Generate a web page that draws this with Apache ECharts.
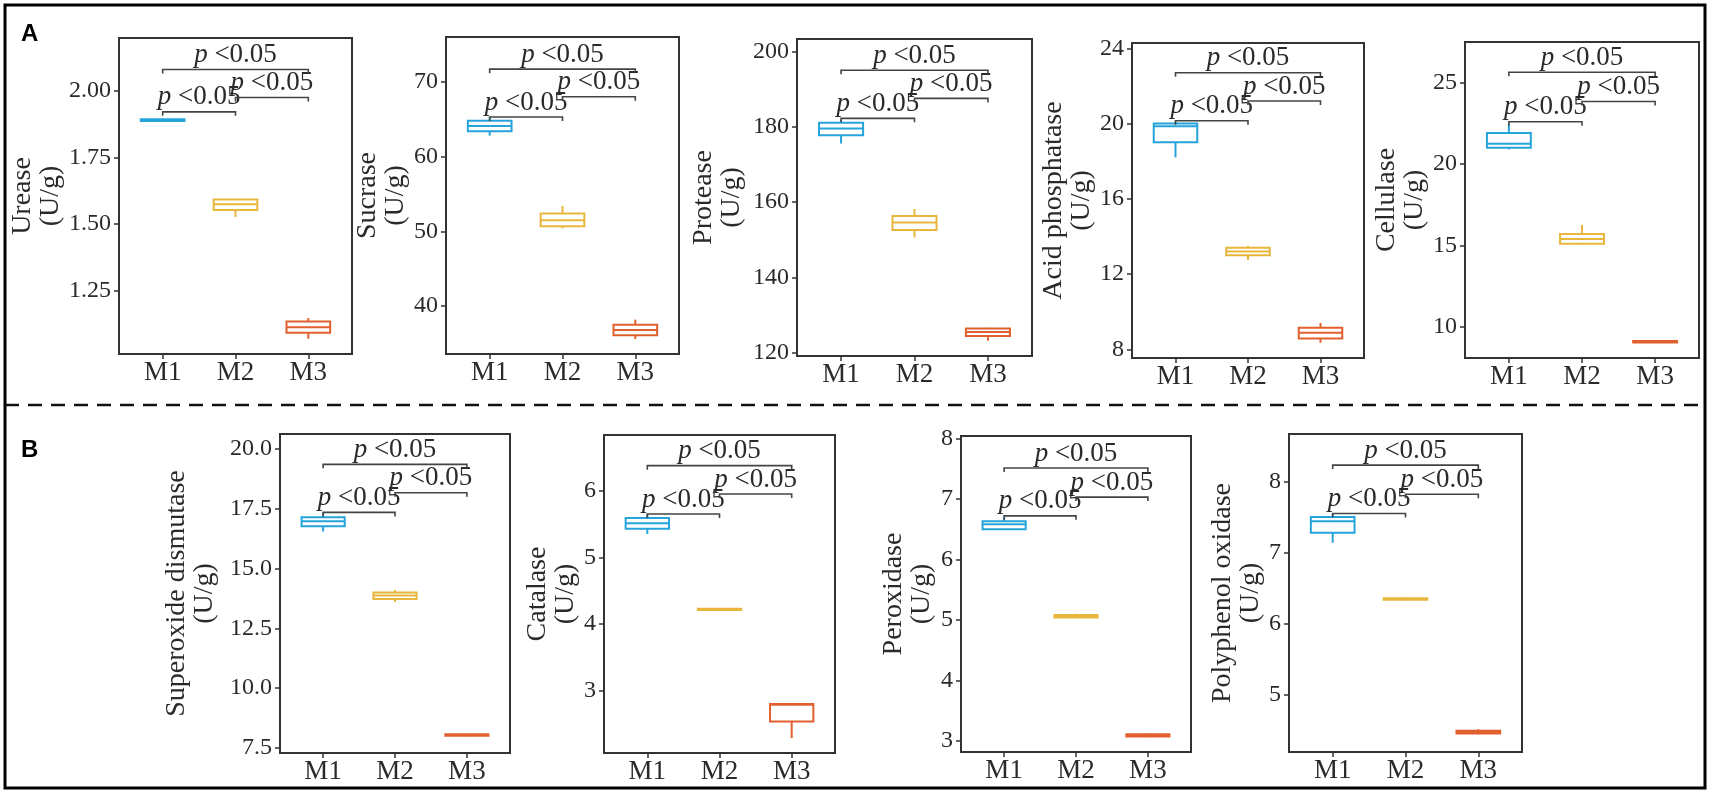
<!DOCTYPE html>
<html>
<head>
<meta charset="utf-8">
<title>Enzyme activities M1-M3</title>
<script src="https://cdn.jsdelivr.net/npm/echarts@6.0.0/dist/echarts.min.js"></script>
<style>
  html, body { margin: 0; padding: 0; background: #fff; }
  #main { width: 1713px; height: 795px; }
</style>
</head>
<body>
<div id="main"></div>
<script>
var groups = ['M1', 'M2', 'M3'];
var groupColors = ['#25a4dc', '#e8b63c', '#e2602e'];
var sigPairs = [[1, 2], [2, 3], [1, 3]];
var sigLabel = '{i|p} <0.05';

// box stats per group: [min, Q1, median, Q3, max]
var urease = [[1.884, 1.887, 1.890, 1.893, 1.895], [1.527, 1.553, 1.575, 1.592, 1.594], [1.070, 1.093, 1.113, 1.135, 1.148]];
var sucrase = [[62.8, 63.4, 64.1, 64.8, 65.3], [50.4, 50.7, 51.5, 52.4, 53.4], [35.6, 36.1, 36.8, 37.5, 38.2]];
var protease = [[175.6, 177.8, 179.6, 181.1, 181.8], [150.6, 152.6, 154.6, 156.3, 158.2], [123.2, 124.4, 125.5, 126.4, 126.6]];
var acidPhos = [[18.2, 19.0, 19.85, 20.0, 20.1], [12.75, 13.0, 13.2, 13.4, 13.5], [8.35, 8.58, 8.88, 9.15, 9.4]];
var cellulase = [[20.9, 21.0, 21.25, 21.9, 22.45], [15.05, 15.1, 15.4, 15.7, 16.25], [9.0, 9.03, 9.08, 9.13, 9.18]];
var sod = [[16.55, 16.77, 16.98, 17.15, 17.35], [13.6, 13.72, 13.87, 14.0, 14.1], [7.98, 8.0, 8.03, 8.06, 8.08]];
var catalase = [[5.35, 5.43, 5.51, 5.59, 5.65], [4.2, 4.21, 4.22, 4.23, 4.24], [2.29, 2.54, 2.79, 2.80, 2.80]];
var peroxidase = [[6.49, 6.50, 6.58, 6.63, 6.70], [5.03, 5.04, 5.06, 5.08, 5.10], [3.06, 3.07, 3.09, 3.11, 3.12]];
var ppo = [[7.14, 7.28, 7.44, 7.50, 7.54], [6.33, 6.34, 6.35, 6.36, 6.37], [4.45, 4.46, 4.48, 4.50, 4.52]];

// bracket heights for M1-M2, M2-M3, M1-M3
var ureaseSig = [1.921, 1.975, 2.080];
var sucraseSig = [65.3, 68.0, 71.7];
var proteaseSig = [182.3, 187.6, 195.1];
var acidPhosSig = [20.15, 21.2, 22.7];
var cellulaseSig = [22.6, 23.84, 25.64];
var sodSig = [17.35, 18.17, 19.36];
var catalaseSig = [5.65, 5.95, 6.375];
var peroxidaseSig = [6.72, 7.03, 7.51];
var ppoSig = [7.55, 7.82, 8.23];

// y tick labels
var ureaseTicks = [1.25, 1.50, 1.75, 2.00];
var sucraseTicks = [40, 50, 60, 70];
var proteaseTicks = [120, 140, 160, 180, 200];
var acidPhosTicks = [8, 12, 16, 20, 24];
var cellulaseTicks = [10, 15, 20, 25];
var sodTicks = [7.5, 10.0, 12.5, 15.0, 17.5, 20.0];
var catalaseTicks = [3, 4, 5, 6];
var peroxidaseTicks = [3, 4, 5, 6, 7, 8];
var ppoTicks = [5, 6, 7, 8];

var panels = [
    { name: 'Urease\n(U/g)', box: urease, sig: ureaseSig, ticks: ureaseTicks, dec: 2, range: [1.013, 2.198] },
    { name: 'Sucrase\n(U/g)', box: sucrase, sig: sucraseSig, ticks: sucraseTicks, dec: 0, range: [33.6, 76.0] },
    { name: 'Protease\n(U/g)', box: protease, sig: proteaseSig, ticks: proteaseTicks, dec: 0, range: [119.1, 203.4] },
    { name: 'Acid phosphatase\n(U/g)', box: acidPhos, sig: acidPhosSig, ticks: acidPhosTicks, dec: 0, range: [7.54, 24.28] },
    { name: 'Cellulase\n(U/g)', box: cellulase, sig: cellulaseSig, ticks: cellulaseTicks, dec: 0, range: [8.08, 27.5] },
    { name: 'Superoxide dismutase\n(U/g)', box: sod, sig: sodSig, ticks: sodTicks, dec: 1, range: [7.28, 20.63] },
    { name: 'Catalase\n(U/g)', box: catalase, sig: catalaseSig, ticks: catalaseTicks, dec: 0, range: [2.066, 6.835] },
    { name: 'Peroxidase\n(U/g)', box: peroxidase, sig: peroxidaseSig, ticks: peroxidaseTicks, dec: 0, range: [2.815, 8.04] },
    { name: 'Polyphenol oxidase\n(U/g)', box: ppo, sig: ppoSig, ticks: ppoTicks, dec: 0, range: [4.20, 8.667] }
];

// frame of each panel: left, top, width, height, name gap
var layout = [
    [119, 38, 233, 316, 52],
    [446, 37, 233, 317, 36],
    [797, 39, 235, 317, 51],
    [1132, 43, 232, 315, 33],
    [1465, 42, 234, 316, 33],
    [280, 434, 230, 319, 61],
    [604, 435, 231, 318, 19],
    [961, 436, 230, 316, 25],
    [1289, 434, 233, 318, 20]
];

var serif = 'Liberation Serif';
var textColor = '#2a2a2a';
var frameColor = '#333';
var boxWidth = 0.6;

function renderBox(params, api) {
    var x = api.value(0);
    var lo = api.coord([x, api.value(1)]);
    var q1 = api.coord([x, api.value(2)]);
    var md = api.coord([x, api.value(3)]);
    var q3 = api.coord([x, api.value(4)]);
    var hi = api.coord([x, api.value(5)]);
    var half = api.size([boxWidth, 0])[0] / 2;
    var color = groupColors[params.dataIndex];
    var st = { stroke: color, lineWidth: 2, fill: null };
    return {
        type: 'group',
        children: [
            { type: 'line', shape: { x1: lo[0], y1: lo[1], x2: q1[0], y2: q1[1] }, style: st },
            { type: 'line', shape: { x1: q3[0], y1: q3[1], x2: hi[0], y2: hi[1] }, style: st },
            { type: 'rect', shape: { x: q3[0] - half, y: q3[1], width: half * 2, height: Math.max(q1[1] - q3[1], 1) },
              style: { stroke: color, lineWidth: 2, fill: '#fff' } },
            { type: 'line', shape: { x1: md[0] - half, y1: md[1], x2: md[0] + half, y2: md[1] }, style: st }
        ]
    };
}

function renderBracket(params, api) {
    var a = api.coord([api.value(0), api.value(2)]);
    var b = api.coord([api.value(1), api.value(2)]);
    return {
        type: 'group',
        children: [
            { type: 'polyline', shape: { points: [[a[0], a[1] + 4], a, b, [b[0], b[1] + 4]] },
              style: { stroke: '#444', lineWidth: 1.6, fill: null } },
            { type: 'text', x: (a[0] + b[0]) / 2, y: a[1] - 1,
              style: {
                  text: sigLabel, fill: textColor, fontFamily: serif, fontSize: 27,
                  align: 'center', verticalAlign: 'bottom',
                  rich: { i: { fontStyle: 'italic', fontFamily: serif, fontSize: 27, fill: textColor } }
              } }
        ]
    };
}

var grids = [], xAxes = [], yAxes = [], series = [];
panels.forEach(function (p, i) {
    var L = layout[i];
    grids.push({ left: L[0], top: L[1], width: L[2], height: L[3], show: true,
                 borderColor: frameColor, borderWidth: 2, backgroundColor: 'transparent' });
    xAxes.push({
        gridIndex: i, type: 'value', min: 0.4, max: 3.6,
        axisLine: { show: false }, splitLine: { show: false },
        axisTick: { customValues: [1, 2, 3], length: 5, lineStyle: { color: frameColor, width: 1.5 } },
        axisLabel: { customValues: [1, 2, 3], margin: 5, fontFamily: serif, fontSize: 27, color: textColor,
                     formatter: function (v) { return groups[Math.round(v) - 1]; } }
    });
    yAxes.push({
        gridIndex: i, type: 'value', min: p.range[0], max: p.range[1],
        name: p.name, nameLocation: 'middle', nameRotate: 90, nameGap: L[4],
        nameTextStyle: { fontFamily: serif, fontSize: 28, color: textColor, lineHeight: 28 },
        axisLine: { show: false }, splitLine: { show: false },
        axisTick: { customValues: p.ticks, length: 5, lineStyle: { color: frameColor, width: 1.5 } },
        axisLabel: { customValues: p.ticks, margin: 8, fontFamily: serif, fontSize: 24, color: textColor,
                     formatter: (function (d) { return function (v) { return v.toFixed(d); }; })(p.dec) }
    });
    series.push({
        type: 'custom', xAxisIndex: i, yAxisIndex: i, renderItem: renderBox, silent: true,
        data: p.box.map(function (b, j) { return [j + 1].concat(b); }),
        encode: { x: 0, y: [1, 2, 3, 4, 5] }
    });
    series.push({
        type: 'custom', xAxisIndex: i, yAxisIndex: i, renderItem: renderBracket, silent: true, clip: false,
        data: sigPairs.map(function (pr, k) { return [pr[0], pr[1], p.sig[k]]; }),
        encode: { x: [0, 1], y: 2 }
    });
});

var myChart = echarts.init(document.getElementById('main'));
var option = {
    animation: false,
    backgroundColor: '#fff',
    grid: grids,
    xAxis: xAxes,
    yAxis: yAxes,
    series: series,
    graphic: [
        { type: 'rect', shape: { x: 5, y: 5, width: 1700, height: 783 }, style: { fill: null, stroke: '#000', lineWidth: 3 } },
        { type: 'line', shape: { x1: 5, y1: 405, x2: 1705, y2: 405 }, style: { stroke: '#111', lineWidth: 2.5, lineDash: [14, 9] } },
        { type: 'text', x: 21, y: 22, style: { text: 'A', font: 'bold 24px "Liberation Sans"', fill: '#000' } },
        { type: 'text', x: 21, y: 438, style: { text: 'B', font: 'bold 24px "Liberation Sans"', fill: '#000' } }
    ]
};
myChart.setOption(option);
</script>
</body>
</html>
